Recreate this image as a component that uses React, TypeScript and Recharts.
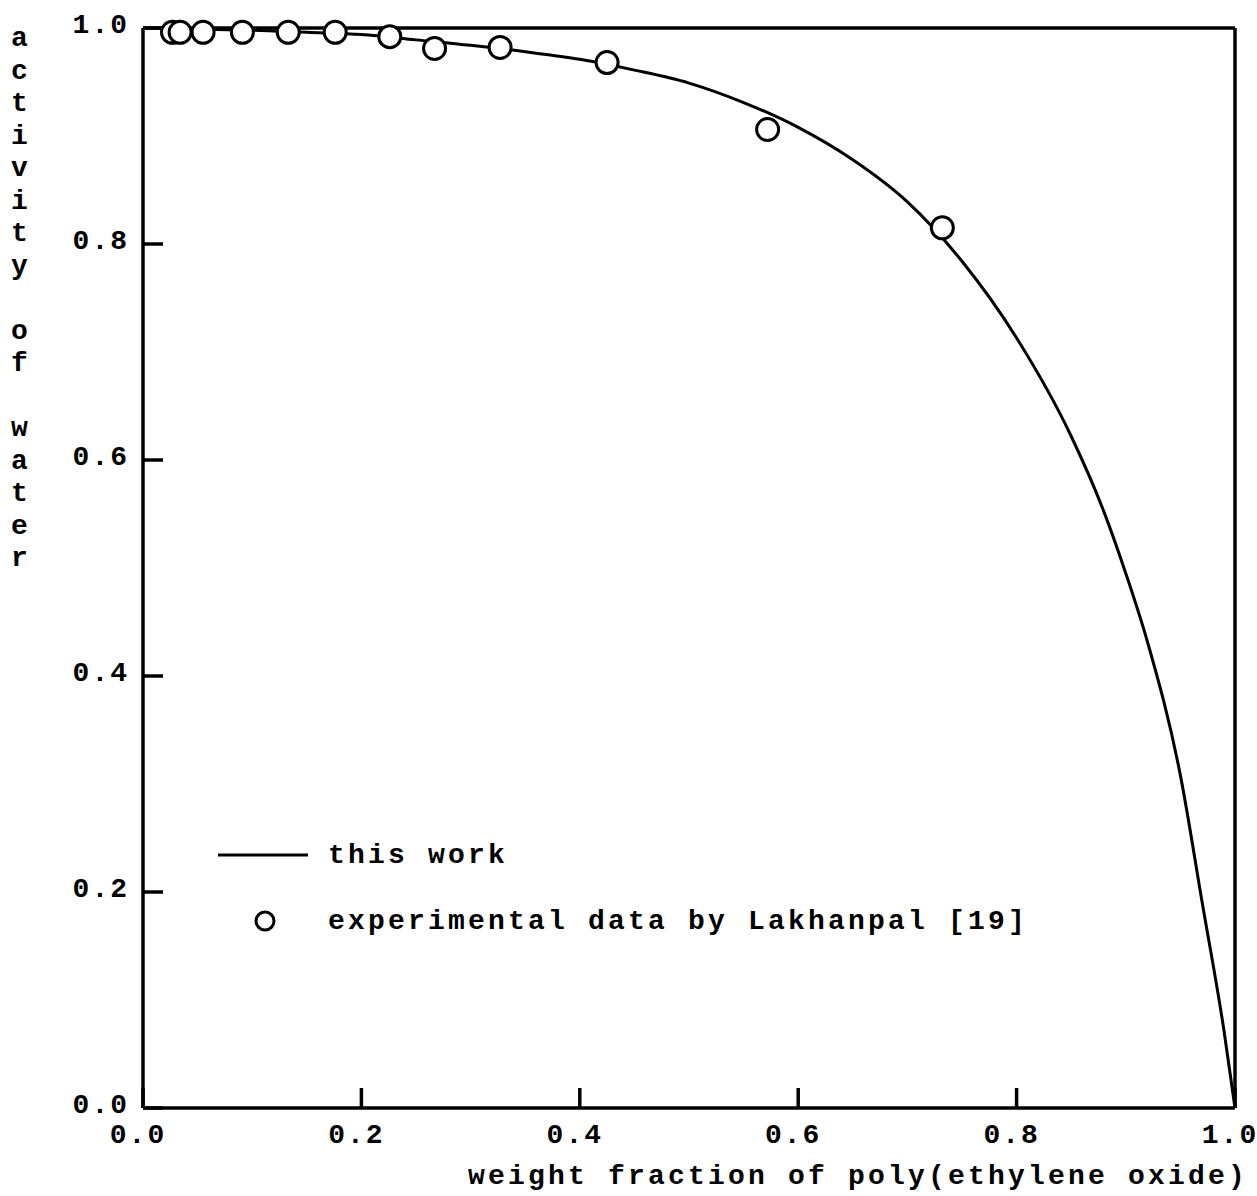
import React from "react";
import {
  ComposedChart,
  Line,
  Scatter,
  XAxis,
  YAxis,
  Legend,
} from "recharts";

// calculated curve ("this work")
const curveFraction = [
  0, 0.05, 0.1, 0.15, 0.2, 0.25, 0.3, 0.35, 0.4, 0.45, 0.5, 0.55, 0.6, 0.65,
  0.7, 0.75, 0.8, 0.85, 0.88, 0.9, 0.92, 0.95, 0.97, 0.99, 1.0,
];
const curveActivity = [
  1.0, 0.999, 0.998, 0.996, 0.994, 0.989, 0.984, 0.978, 0.971, 0.961, 0.949,
  0.931, 0.908, 0.878, 0.839, 0.784, 0.713, 0.622, 0.552, 0.495, 0.431, 0.308,
  0.19, 0.071, 0.0,
];

// experimental data by Lakhanpal [19]
const expFraction = [
  0.027, 0.034, 0.055, 0.091, 0.133, 0.176, 0.226, 0.267, 0.327, 0.425, 0.572,
  0.732,
];
const expActivity = [
  0.996, 0.996, 0.996, 0.996, 0.996, 0.996, 0.992, 0.981, 0.982, 0.968, 0.906,
  0.815,
];

const xTicks = [0, 0.2, 0.4, 0.6, 0.8, 1.0];
const yTicks = [0, 0.2, 0.4, 0.6, 0.8, 1.0];

const yTitle = "activity of water";
const xTitle = "weight fraction of poly(ethylene oxide)";

const FONT = "'Liberation Mono', 'DejaVu Sans Mono', monospace";
const FS = 28;
const LS = 3.2;

const curveData = curveFraction.map((x, i) => ({ x, y: curveActivity[i] }));
const expData = expFraction.map((x, i) => ({ x, y: expActivity[i] }));

const textStyle = {
  fontFamily: FONT,
  fontSize: FS,
  letterSpacing: LS,
  fill: "#000",
  fontWeight: 600,
};

const tickStyle = { ...textStyle, letterSpacing: 2 };

const XTick = (props: any) => {
  const { x, y, payload } = props;
  return (
    <text
      x={x - 5}
      y={y + 27}
      textAnchor="middle"
      dominantBaseline="central"
      style={tickStyle}
    >
      {Number(payload.value).toFixed(1)}
    </text>
  );
};

const YTick = (props: any) => {
  const { x, y, payload } = props;
  return (
    <text
      x={x - 14}
      y={y - 3}
      textAnchor="end"
      dominantBaseline="central"
      style={tickStyle}
    >
      {Number(payload.value).toFixed(1)}
    </text>
  );
};

const YTitle = () => (
  <text style={textStyle} textAnchor="middle" dominantBaseline="central">
    {yTitle.split("").map((ch, i) =>
      ch === " " ? null : (
        <tspan key={i} x={21} y={38 + i * 32.5}>
          {ch}
        </tspan>
      )
    )}
  </text>
);

const XTitle = () => (
  <text
    x={858}
    y={1176}
    textAnchor="middle"
    dominantBaseline="central"
    style={textStyle}
  >
    {xTitle}
  </text>
);

const LegendBox = (props: any) => {
  const items = [...(props.payload || [])].sort((a: any, b: any) =>
    a.type === "line" ? -1 : b.type === "line" ? 1 : 0
  );
  return (
    <div style={{ position: "relative", width: 900, height: 130 }}>
      {items.map((entry: any, i: number) => (
        <div
          key={i}
          style={{
            position: "absolute",
            left: 0,
            top: i === 0 ? 0 : 66,
            height: 60,
            display: "flex",
            alignItems: "center",
          }}
        >
          <svg width={120} height={60}>
            {entry.type === "line" ? (
              <line x1={18} x2={108} y1={30} y2={30} stroke="#000" strokeWidth={3} />
            ) : (
              <circle cx={65} cy={30} r={9} fill="#fff" stroke="#000" strokeWidth={3} />
            )}
          </svg>
          <span
            style={{
              fontFamily: FONT,
              fontSize: FS,
              letterSpacing: LS,
              fontWeight: 600,
              color: "#000",
              marginLeft: 8,
              whiteSpace: "nowrap",
            }}
          >
            {entry.value}
          </span>
        </div>
      ))}
    </div>
  );
};

const ExpDot = (props: any) => (
  <circle
    cx={props.cx}
    cy={props.cy}
    r={11}
    fill="#fff"
    stroke="#000"
    strokeWidth={3}
  />
);

const axisLine = { stroke: "#000", strokeWidth: 3.5 };
const tickLine = { stroke: "#000", strokeWidth: 3.5 };

export default function App() {
  return (
    <div
      style={{
        position: "absolute",
        left: 0,
        top: 0,
        width: 1257,
        height: 1196,
        background: "#fff",
      }}
    >
      <ComposedChart
        width={1257}
        height={1196}
        margin={{ top: 27, right: 21, left: 142, bottom: 87 }}
      >
        <XAxis
          xAxisId="bottom"
          dataKey="x"
          type="number"
          domain={[0, 1]}
          ticks={xTicks}
          height={1}
          tickSize={-20}
          tickMargin={20}
          axisLine={axisLine}
          tickLine={tickLine}
          tick={<XTick />}
          label={<XTitle />}
        />
        <XAxis
          xAxisId="top"
          orientation="top"
          type="number"
          domain={[0, 1]}
          ticks={xTicks}
          height={1}
          tickSize={-20}
          axisLine={axisLine}
          tickLine={tickLine}
          tick={false}
        />
        <YAxis
          yAxisId="left"
          dataKey="y"
          type="number"
          domain={[0, 1]}
          ticks={yTicks}
          width={1}
          tickSize={-20}
          tickMargin={20}
          axisLine={axisLine}
          tickLine={tickLine}
          tick={<YTick />}
          label={<YTitle />}
        />
        <YAxis
          yAxisId="right"
          orientation="right"
          type="number"
          domain={[0, 1]}
          ticks={yTicks}
          width={1}
          tickSize={-20}
          axisLine={axisLine}
          tickLine={tickLine}
          tick={false}
        />
        <Legend
          layout="horizontal"
          align="center"
          verticalAlign="middle"
          content={<LegendBox />}
          wrapperStyle={{ position: "absolute", left: 200, top: 825, width: 900, height: 130 }}
        />
        <Line
          xAxisId="bottom"
          yAxisId="left"
          data={curveData}
          dataKey="y"
          name="this work"
          type="monotone"
          stroke="#000"
          strokeWidth={3}
          dot={false}
          legendType="line"
          isAnimationActive={false}
        />
        <Scatter
          xAxisId="bottom"
          yAxisId="left"
          data={expData}
          dataKey="y"
          name="experimental data by Lakhanpal [19]"
          shape={<ExpDot />}
          legendType="circle"
          isAnimationActive={false}
        />
      </ComposedChart>
    </div>
  );
}
